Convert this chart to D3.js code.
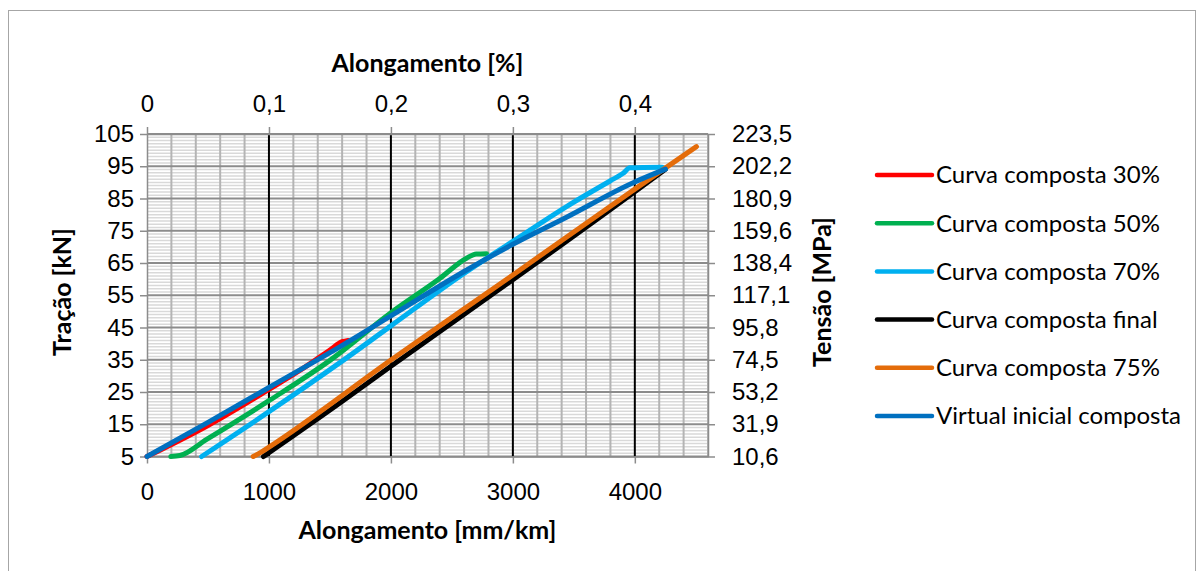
<!DOCTYPE html>
<html>
<head>
<meta charset="utf-8">
<script src="https://cdnjs.cloudflare.com/ajax/libs/d3/7.8.5/d3.min.js"></script>
<style>
  body { margin: 0; background: #fff; }
  svg { font-family: Lato, "Open Sans", sans-serif; }
  .tick text { font-size: 24px; fill: #000; }
  .axis path, .axis line { stroke: #8c8c8c; stroke-width: 1.5; }
  .title { font-size: 25px; font-weight: bold; fill: #000; }
  .legend text { font-size: 24px; fill: #000; }
</style>
</head>
<body>
<script>
// tick values / labels
var xTicksBottom = [0, 1000, 2000, 3000, 4000];
var xTicksTop = [0, 0.1, 0.2, 0.3, 0.4];
var yTicksLeft = [5, 15, 25, 35, 45, 55, 65, 75, 85, 95, 105];
var yLabelsRight = ["10,6", "31,9", "53,2", "74,5", "95,8", "117,1", "138,4", "159,6", "180,9", "202,2", "223,5"];

// series (alongamento mm/km, tracao kN)
var seriesNames = ["Curva composta 30%", "Curva composta 50%", "Curva composta 70%",
                   "Curva composta final", "Curva composta 75%", "Virtual inicial composta"];
var seriesColors = ["#ff0000", "#00b050", "#00b0f0", "#000000", "#e46c0a", "#0070c0"];

var curva30 = [[0, 5], [489, 14.4], [1000, 25.8], [1250, 31.6], [1500, 38.0], [1600, 40.6], [1650, 41]];
var curva50 = [[195, 5], [270, 5.3], [489, 10.3], [1000, 22.3], [1500, 34.8], [2000, 49.6],
               [2400, 60.2], [2620, 66.5], [2700, 67.8], [2784, 67.9]];
var curva70 = [[448, 5], [1000, 18.9], [1582, 34.1], [2000, 45.5], [2593, 61.6], [3000, 71.7],
               [3440, 82.5], [3800, 90.5], [3904, 92.8], [3960, 94.5], [4224, 94.7]];
var curvaFinal = [[955, 5], [1582, 21.6], [2000, 33.0], [3000, 59.8], [4000, 87.1], [4251, 94.1]];
var curva75 = [[871, 5], [930, 6.2], [1000, 7.9], [2000, 34.9], [3000, 61.3], [4000, 87.9], [4505, 101.1]];
var virtualInicial = [[0, 5], [500, 15.6], [1000, 26.4], [1500, 37.2], [2000, 48.6], [2593, 62.2],
                      [3000, 70.8], [3440, 79.2], [3986, 89.9], [4251, 94.1]];
var seriesData = [curva30, curva50, curva70, curvaFinal, curva75, virtualInicial];

var margin = {top: 134, left: 147};
var width = 561, height = 322.5;

var svg = d3.select('body').append('svg')
  .attr('width', 1204)
  .attr('height', 571);

// outer frame
svg.append('rect')
  .attr('x', 8.5).attr('y', 10.5)
  .attr('width', 1187).attr('height', 600)
  .attr('fill', 'none').attr('stroke', '#a6a6a6').attr('stroke-width', 1);

var g = svg.append('g')
  .attr('transform', 'translate(' + margin.left + ',' + margin.top + ')');

var xScale = d3.scaleLinear().domain([0, 4600]).range([0, width]);
var xPct = d3.scaleLinear().domain([0, 0.46]).range([0, width]);
var yScale = d3.scaleLinear().domain([5, 105]).range([height, 0]);

// grid: minor horizontal every 1 kN
g.append('g').selectAll('line')
  .data(d3.range(6, 105, 1).filter(function(v){ return (v - 5) % 10 != 0; }))
  .enter().append('line')
  .attr('x1', 0).attr('x2', width)
  .attr('y1', function(d){ return yScale(d); })
  .attr('y2', function(d){ return yScale(d); })
  .attr('stroke', '#d9d9d9').attr('stroke-width', 1.5);

// minor vertical every 200
g.append('g').selectAll('line')
  .data(d3.range(200, 4601, 200).filter(function(v){ return v % 1000 != 0; }))
  .enter().append('line')
  .attr('x1', function(d){ return xScale(d); })
  .attr('x2', function(d){ return xScale(d); })
  .attr('y1', 0).attr('y2', height)
  .attr('stroke', '#b4b4b4').attr('stroke-width', 2);

// major horizontal
g.append('g').selectAll('line')
  .data(yTicksLeft)
  .enter().append('line')
  .attr('x1', 0).attr('x2', width)
  .attr('y1', function(d){ return yScale(d); })
  .attr('y2', function(d){ return yScale(d); })
  .attr('stroke', '#8c8c8c').attr('stroke-width', 2);

// major vertical (black)
g.append('g').selectAll('line')
  .data(xTicksBottom.slice(1))
  .enter().append('line')
  .attr('x1', function(d){ return xScale(d); })
  .attr('x2', function(d){ return xScale(d); })
  .attr('y1', 0).attr('y2', height)
  .attr('stroke', '#000').attr('stroke-width', 2);

// axes
var xAxis = d3.axisBottom(xScale).tickValues(xTicksBottom).tickSize(7).tickPadding(19).tickSizeOuter(0)
  .tickFormat(d3.format('d'));
var xAxisTop = d3.axisTop(xPct).tickValues(xTicksTop).tickSize(7).tickPadding(15).tickSizeOuter(0)
  .tickFormat(function(d){ return d3.format('.1~f')(d).replace('.', ','); });
var yAxis = d3.axisLeft(yScale).tickValues(yTicksLeft).tickSize(7).tickPadding(6).tickSizeOuter(0);
var yAxisRight = d3.axisRight(yScale).tickValues(yTicksLeft).tickSize(7).tickPadding(17).tickSizeOuter(0)
  .tickFormat(function(d, i){ return yLabelsRight[i]; });

g.append('g').attr('class', 'x axis')
  .attr('transform', 'translate(0,' + height + ')').call(xAxis);
g.append('g').attr('class', 'x axis top').call(xAxisTop);
g.append('g').attr('class', 'y axis').call(yAxis);
g.append('g').attr('class', 'y axis right')
  .attr('transform', 'translate(' + width + ',0)').call(yAxisRight);

// lines
var line = d3.line()
  .x(function(d){ return xScale(d[0]); })
  .y(function(d){ return yScale(d[1]); })
  .curve(d3.curveMonotoneX);

seriesData.forEach(function(s, i){
  g.append('path')
    .datum(s)
    .attr('d', line)
    .attr('fill', 'none')
    .attr('stroke', seriesColors[i])
    .attr('stroke-width', 5)
    .attr('stroke-linecap', 'round')
    .attr('stroke-linejoin', 'round');
});

// axis titles
svg.append('text').attr('class', 'title')
  .attr('x', margin.left + width / 2).attr('y', 539)
  .attr('text-anchor', 'middle').text('Alongamento [mm/km]');
svg.append('text').attr('class', 'title')
  .attr('x', margin.left + width / 2).attr('y', 72)
  .attr('text-anchor', 'middle').text('Alongamento [%]');
svg.append('text').attr('class', 'title')
  .attr('transform', 'translate(71,' + 292 + ') rotate(-90)')
  .attr('text-anchor', 'middle').text('Tração [kN]');
svg.append('text').attr('class', 'title')
  .attr('transform', 'translate(831,' + 292 + ') rotate(-90)')
  .attr('text-anchor', 'middle').text('Tensão [MPa]');

// legend
var legend = svg.selectAll('.legend')
  .data(seriesNames)
  .enter().append('g')
  .attr('class', 'legend')
  .attr('transform', function(d, i){ return 'translate(877,' + (175 + i * 48.2) + ')'; });

legend.append('line')
  .attr('x1', 0).attr('x2', 55)
  .attr('stroke', function(d, i){ return seriesColors[i]; })
  .attr('stroke-width', 4.5)
  .attr('stroke-linecap', 'round');

legend.append('text')
  .attr('x', 59).attr('dy', '.35em')
  .text(function(d){ return d; });
</script>
</body>
</html>
